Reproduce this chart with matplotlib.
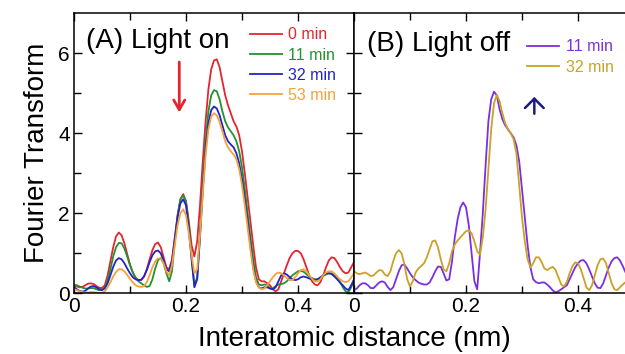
import matplotlib
matplotlib.use("Agg")
import matplotlib.pyplot as plt
import numpy as np

plt.rcParams['font.family'] = ['Liberation Sans', 'DejaVu Sans']

# interatomic distance grid (nm), step 0.005
dist = [round(i * 0.005, 3) for i in range(101)]

# (A) light on
on_0min = [0.18, 0.17, 0.15, 0.16, 0.2, 0.24, 0.25, 0.23, 0.18, 0.14,
           0.13, 0.2, 0.45, 0.8, 1.15, 1.42, 1.52, 1.45, 1.25, 0.98,
           0.72, 0.52, 0.39, 0.33, 0.33, 0.42, 0.6, 0.85, 1.08, 1.23,
           1.27, 1.15, 0.9, 0.65, 0.6, 0.85, 1.4, 1.95, 2.35, 2.48,
           2.3, 1.8, 1.2, 0.92, 1.3, 2.2, 3.3, 4.3, 5.1, 5.6,
           5.82, 5.85, 5.65, 5.3, 4.95, 4.7, 4.5, 4.3, 4.17, 3.95,
           3.55, 3.0, 2.4, 1.8, 1.2, 0.65, 0.35, 0.3, 0.3, 0.25,
           0.2, 0.1, 0.05, 0.1, 0.3, 0.5, 0.7, 0.88, 1.0, 1.06,
           1.06, 1.0, 0.85, 0.65, 0.45, 0.3, 0.22, 0.2, 0.28, 0.45,
           0.65, 0.82, 0.9, 0.88, 0.78, 0.65, 0.55, 0.5, 0.52, 0.65,
           0.78]
on_11min = [0.22, 0.2, 0.17, 0.14, 0.12, 0.12, 0.13, 0.13, 0.1, 0.08,
            0.09, 0.15, 0.32, 0.6, 0.92, 1.15, 1.26, 1.25, 1.12, 0.92,
            0.7, 0.52, 0.38, 0.3, 0.25, 0.2, 0.16, 0.18, 0.35, 0.62,
            0.83, 0.88, 0.75, 0.5, 0.3, 0.55, 1.3, 1.95, 2.35, 2.45,
            2.3, 1.7, 0.9, 0.2, 0.4, 1.5, 2.7, 3.8, 4.55, 4.95,
            5.08, 5.05, 4.85, 4.55, 4.3, 4.15, 4.05, 3.95, 3.8, 3.55,
            3.15, 2.6, 2.0, 1.4, 0.85, 0.4, 0.22, 0.2, 0.22, 0.2,
            0.12, 0.12, 0.18, 0.22, 0.23, 0.25, 0.3, 0.38, 0.45, 0.5,
            0.55, 0.56, 0.54, 0.48, 0.42, 0.38, 0.35, 0.35, 0.38, 0.43,
            0.47, 0.5, 0.5, 0.45, 0.38, 0.28, 0.15, 0.05, 0.02, 0.15,
            0.3]
on_32min = [0.15, 0.1, 0.06, 0.04, 0.06, 0.12, 0.17, 0.18, 0.15, 0.1,
            0.08, 0.12, 0.25, 0.45, 0.66, 0.82, 0.88, 0.85, 0.75, 0.62,
            0.5, 0.4, 0.35, 0.33, 0.34, 0.42, 0.58, 0.78, 0.95, 1.05,
            1.07, 1.0, 0.82, 0.6, 0.55, 0.8, 1.35, 1.9, 2.25, 2.35,
            2.2, 1.6, 0.85, 0.15, 0.35, 1.4, 2.6, 3.6, 4.25, 4.58,
            4.67, 4.62, 4.45, 4.2, 3.95, 3.8, 3.72, 3.65, 3.5, 3.25,
            2.85, 2.35, 1.8, 1.2, 0.65, 0.3, 0.15, 0.12, 0.15, 0.15,
            0.12, 0.1, 0.15, 0.3, 0.45, 0.5, 0.47, 0.4, 0.35, 0.33,
            0.35, 0.4, 0.42, 0.4, 0.37, 0.35, 0.33, 0.35, 0.4, 0.45,
            0.5, 0.5, 0.48, 0.42, 0.35, 0.27, 0.2, 0.12, 0.08, 0.2,
            0.35]
on_53min = [0.1, 0.08, 0.05, 0.03, 0.02, 0.02, 0.03, 0.03, 0.02, 0.01,
            0.01, 0.05, 0.15, 0.28, 0.42, 0.53, 0.6, 0.6, 0.55, 0.46,
            0.36, 0.27, 0.2, 0.17, 0.16, 0.18, 0.28, 0.45, 0.65, 0.8,
            0.87, 0.87, 0.75, 0.55, 0.45, 0.7, 1.2, 1.7, 2.0, 2.1,
            1.95, 1.5, 0.95, 0.5, 0.6, 1.45, 2.5, 3.45, 4.1, 4.42,
            4.5, 4.45, 4.28, 4.05, 3.8, 3.65, 3.55, 3.47, 3.35, 3.1,
            2.7, 2.2, 1.65, 1.1, 0.6, 0.28, 0.15, 0.1, 0.12, 0.2,
            0.3, 0.4, 0.48, 0.52, 0.5, 0.45, 0.38, 0.33, 0.33, 0.4,
            0.5, 0.58, 0.6, 0.55, 0.45, 0.36, 0.3, 0.3, 0.35, 0.45,
            0.52, 0.55, 0.55, 0.5, 0.42, 0.35, 0.3, 0.28, 0.3, 0.4,
            0.5]

# (B) light off
off_11min = [0.08, 0.12, 0.2, 0.25, 0.25, 0.2, 0.13, 0.13, 0.2, 0.27,
             0.3, 0.27, 0.16, 0.08, 0.15, 0.35, 0.55, 0.7, 0.72, 0.62,
             0.5, 0.4, 0.33, 0.27, 0.24, 0.22, 0.22, 0.27, 0.4, 0.55,
             0.67, 0.66, 0.5, 0.32, 0.35, 0.8, 1.4, 1.85, 2.15, 2.27,
             2.15, 1.7, 1.0, 0.3, 0.1, 1.0, 2.0, 3.2, 4.3, 4.85,
             5.04, 4.95, 4.6, 4.35, 4.2, 4.1, 4.0, 3.9, 3.7, 3.3,
             2.6, 1.9, 1.2, 0.65, 0.35, 0.28, 0.25, 0.27, 0.27, 0.22,
             0.15, 0.07, 0.02, 0.05, 0.1, 0.15, 0.2, 0.35, 0.5, 0.65,
             0.75, 0.82, 0.83, 0.75, 0.6, 0.42, 0.25, 0.14, 0.13, 0.25,
             0.45, 0.65, 0.8, 0.88, 0.9, 0.82, 0.68, 0.52, 0.4, 0.35,
             0.4]
off_32min = [0.55, 0.5, 0.48, 0.5, 0.52, 0.48, 0.43, 0.45, 0.52, 0.58,
             0.57, 0.47, 0.43, 0.55, 0.8, 1.0, 1.08, 1.0, 0.72, 0.35,
             0.17, 0.3, 0.52, 0.62, 0.68, 0.75, 0.9, 1.1, 1.3, 1.32,
             1.15, 0.85, 0.6, 0.55, 0.75, 1.05, 1.22, 1.32, 1.4, 1.48,
             1.55, 1.58, 1.5, 1.3, 1.05, 0.96, 1.4, 2.1, 3.1, 4.1,
             4.75, 4.96, 4.8, 4.5, 4.25, 4.1, 4.0, 3.85, 3.5, 2.7,
             1.9, 1.3, 0.85, 0.65, 0.75, 0.9, 0.9, 0.78, 0.62, 0.58,
             0.63, 0.66, 0.58, 0.4, 0.22, 0.17, 0.28, 0.5, 0.68, 0.77,
             0.75, 0.6, 0.38, 0.15, 0.08, 0.2, 0.45, 0.7, 0.85, 0.87,
             0.75, 0.5, 0.25, 0.1, 0.08, 0.15, 0.22, 0.28, 0.3, 0.32,
             0.35]

on_labels = ['0 min', '11 min', '32 min', '53 min']
on_colors = ['#e3262d', '#23922f', '#2323c8', '#f4a23c']
off_labels = ['11 min', '32 min']
off_colors = ['#7a2fe0', '#c9a227']

W, H = 625, 354
fig = plt.figure(figsize=(W / 100, H / 100), dpi=100)
axA = fig.add_axes([74 / W, (H - 293.3) / H, 280 / W, 280 / H])
axB = fig.add_axes([354 / W, (H - 293.3) / H, 280 / W, 280 / H])


def style(ax):
    ax.set_xlim(0, 0.5)
    ax.set_ylim(0, 7)
    ax.set_xticks([0, 0.2, 0.4])
    ax.set_xticklabels(['0', '0.2', '0.4'])
    ax.set_xticks([0.1, 0.3], minor=True)
    ax.set_yticks([0, 2, 4, 6])
    ax.set_yticks([1, 3, 5], minor=True)
    ax.tick_params(which='both', direction='in', top=True, right=True,
                   width=1.0, labelsize=15, pad=3)
    ax.tick_params(which='major', length=6)
    ax.tick_params(which='minor', length=5)
    for s in ax.spines.values():
        s.set_linewidth(1.1)


style(axA)
style(axB)
axB.tick_params(labelleft=False)

on_series = [on_0min, on_11min, on_32min, on_53min]
for ys, lab, col in zip(on_series, on_labels, on_colors):
    axA.plot(dist, ys, color=col, lw=1.3, label=lab)
for ys, lab, col in zip([off_11min, off_32min], off_labels, off_colors):
    axB.plot(dist, ys, color=col, lw=1.3, label=lab)

legA = axA.legend(loc='upper left', bbox_to_anchor=(0.6, 0.978), frameon=False,
                  fontsize=11.5, handlelength=2.0, handletextpad=0.4,
                  labelspacing=0.32, borderpad=0, labelcolor='linecolor')
legB = axB.legend(loc='upper left', bbox_to_anchor=(0.59, 0.935), frameon=False,
                  fontsize=11.5, handlelength=2.0, handletextpad=0.4,
                  labelspacing=0.32, borderpad=0, labelcolor='linecolor')

axA.text(0.043, 0.9, '(A) Light on', transform=axA.transAxes, fontsize=20,
         va='center', ha='left')
axB.text(0.045, 0.892, '(B) Light off', transform=axB.transAxes, fontsize=20,
         va='center', ha='left')

axA.annotate('', xy=(0.188, 4.45), xytext=(0.188, 5.85),
             arrowprops=dict(arrowstyle='->,head_width=0.4,head_length=0.7',
                             color='#e3262d', lw=2))
axB.annotate('', xy=(0.322, 4.98), xytext=(0.322, 4.42),
             arrowprops=dict(arrowstyle='->,head_width=0.45,head_length=0.45',
                             color='#1c1c7a', lw=1.8, mutation_scale=15))

axA.set_ylabel('Fourier Transform', fontsize=20, labelpad=6)
fig.text(354 / W, 15 / H, 'Interatomic distance (nm)', fontsize=20,
         ha='center', va='center')

fig.savefig('out.png', dpi=100)
